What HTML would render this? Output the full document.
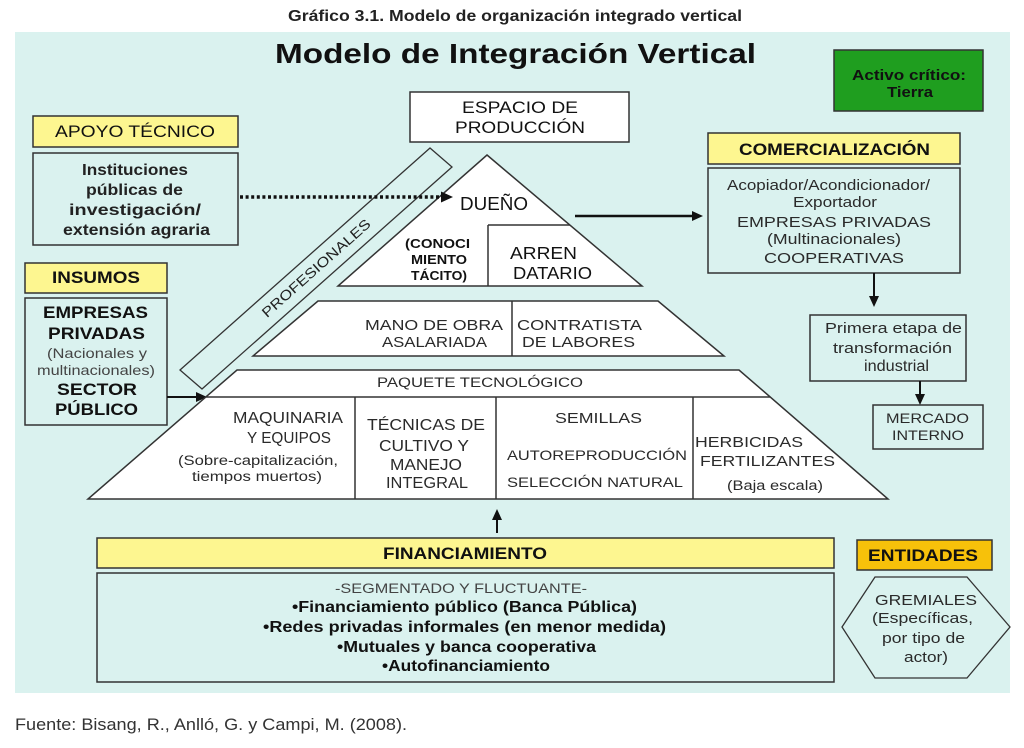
<!DOCTYPE html>
<html><head><meta charset="utf-8"><style>
html,body{margin:0;padding:0;background:#fff;}
svg{display:block;}
text{font-family:"Liberation Sans",Arial,sans-serif;}
.b{font-weight:bold;fill:#111;}
.l{fill:#2a2a2a;}
</style></head><body>
<svg width="1024" height="748" viewBox="0 0 1024 748" xmlns="http://www.w3.org/2000/svg">
<rect x="0" y="0" width="1024" height="748" fill="#fff"/>
<!-- header -->
<text x="288" y="21" font-size="16" class="b" textLength="454" lengthAdjust="spacingAndGlyphs" style="fill:#222">Gráfico 3.1. Modelo de organización integrado vertical</text>
<!-- panel -->
<rect x="15" y="32" width="995" height="661" fill="#daf2ef"/>
<text x="275" y="63" font-size="28" class="b" textLength="481" lengthAdjust="spacingAndGlyphs">Modelo de Integración Vertical</text>

<!-- Activo crítico -->
<rect x="834" y="50" width="149" height="61" fill="#1f9e1f" stroke="#333" stroke-width="1.5"/>
<text x="852" y="80" font-size="15" class="b" textLength="114" lengthAdjust="spacingAndGlyphs">Activo crítico:</text>
<text x="887" y="97" font-size="15" class="b" textLength="46" lengthAdjust="spacingAndGlyphs">Tierra</text>

<!-- Espacio de produccion -->
<rect x="410" y="92" width="219" height="50" fill="#fff" stroke="#333" stroke-width="1.5"/>
<text x="462" y="113" font-size="17" class="l" textLength="116" lengthAdjust="spacingAndGlyphs" style="fill:#111">ESPACIO DE</text>
<text x="455" y="133" font-size="17" class="l" textLength="130" lengthAdjust="spacingAndGlyphs" style="fill:#111">PRODUCCIÓN</text>

<!-- Apoyo tecnico -->
<rect x="33" y="116" width="205" height="31" fill="#fdf690" stroke="#333" stroke-width="1.5"/>
<text x="55" y="137" font-size="17" class="l" textLength="160" lengthAdjust="spacingAndGlyphs" style="fill:#111">APOYO TÉCNICO</text>
<rect x="33" y="153" width="205" height="92" fill="none" stroke="#333" stroke-width="1.5"/>
<text x="82" y="175" font-size="16" class="b" style="fill:#222" textLength="106" lengthAdjust="spacingAndGlyphs">Instituciones</text>
<text x="86" y="195" font-size="16" class="b" style="fill:#222" textLength="97" lengthAdjust="spacingAndGlyphs">públicas de</text>
<text x="69" y="215" font-size="16" class="b" style="fill:#222" textLength="132" lengthAdjust="spacingAndGlyphs">investigación/</text>
<text x="63" y="235" font-size="16" class="b" style="fill:#222" textLength="147" lengthAdjust="spacingAndGlyphs">extensión agraria</text>

<!-- Insumos -->
<rect x="25" y="263" width="142" height="30" fill="#fdf690" stroke="#333" stroke-width="1.5"/>
<text x="52" y="283" font-size="17" class="b" textLength="88" lengthAdjust="spacingAndGlyphs">INSUMOS</text>
<rect x="25" y="298" width="142" height="127" fill="none" stroke="#333" stroke-width="1.5"/>
<text x="43" y="318" font-size="17" class="b" textLength="105" lengthAdjust="spacingAndGlyphs">EMPRESAS</text>
<text x="48" y="339" font-size="17" class="b" textLength="97" lengthAdjust="spacingAndGlyphs">PRIVADAS</text>
<text x="47" y="358" font-size="14" class="l" textLength="100" lengthAdjust="spacingAndGlyphs" style="fill:#444">(Nacionales y</text>
<text x="37" y="375" font-size="14" class="l" textLength="118" lengthAdjust="spacingAndGlyphs" style="fill:#444">multinacionales)</text>
<text x="57" y="395" font-size="17" class="b" textLength="80" lengthAdjust="spacingAndGlyphs">SECTOR</text>
<text x="55" y="415" font-size="17" class="b" textLength="83" lengthAdjust="spacingAndGlyphs">PÚBLICO</text>
<line x1="167" y1="397" x2="198" y2="397" stroke="#111" stroke-width="2"/>
<polygon points="196,392 207,397 196,402" fill="#111"/>

<!-- Profesionales band -->
<polygon points="180,370 202,389 452,167 430,148" fill="none" stroke="#333" stroke-width="1.3"/>
<text x="316" y="273" font-size="14" class="l" text-anchor="middle" transform="rotate(-41.6 316 268)" textLength="140" lengthAdjust="spacingAndGlyphs" style="fill:#222">PROFESIONALES</text>

<!-- top triangle -->
<polygon points="487,155 642,286 338,286" fill="#fff" stroke="#333" stroke-width="1.5"/>
<line x1="488" y1="225" x2="570" y2="225" stroke="#333" stroke-width="1.5"/>
<line x1="488" y1="225" x2="488" y2="286" stroke="#333" stroke-width="1.5"/>
<text x="460" y="210" font-size="18" class="l" textLength="68" lengthAdjust="spacingAndGlyphs" style="fill:#111">DUEÑO</text>
<text x="405" y="248" font-size="12.5" class="b" textLength="65" lengthAdjust="spacingAndGlyphs">(CONOCI</text>
<text x="411" y="264" font-size="12.5" class="b" textLength="56" lengthAdjust="spacingAndGlyphs">MIENTO</text>
<text x="411" y="280" font-size="12.5" class="b" textLength="56" lengthAdjust="spacingAndGlyphs">TÁCITO)</text>
<text x="510" y="259" font-size="17.5" class="l" textLength="67" lengthAdjust="spacingAndGlyphs" style="fill:#111">ARREN</text>
<text x="513" y="279" font-size="17.5" class="l" textLength="79" lengthAdjust="spacingAndGlyphs" style="fill:#111">DATARIO</text>

<!-- dotted arrow (drawn over triangle) -->
<line x1="240" y1="197" x2="442" y2="197" stroke="#111" stroke-width="3.5" stroke-dasharray="3 2.6"/>
<polygon points="441,191.5 453,197 441,202.5" fill="#111"/>

<!-- arrow to comercializacion -->
<line x1="575" y1="216" x2="694" y2="216" stroke="#111" stroke-width="2.5"/>
<polygon points="692,211 703,216 692,221" fill="#111"/>

<!-- middle trapezoid -->
<polygon points="318,301 658,301 724,356 253,356" fill="#fff" stroke="#333" stroke-width="1.5"/>
<line x1="512" y1="301" x2="512" y2="356" stroke="#333" stroke-width="1.5"/>
<text x="365" y="330" font-size="15" class="l" textLength="138" lengthAdjust="spacingAndGlyphs">MANO DE OBRA</text>
<text x="382" y="347" font-size="15" class="l" textLength="105" lengthAdjust="spacingAndGlyphs">ASALARIADA</text>
<text x="517" y="330" font-size="15" class="l" textLength="125" lengthAdjust="spacingAndGlyphs">CONTRATISTA</text>
<text x="522" y="347" font-size="15" class="l" textLength="113" lengthAdjust="spacingAndGlyphs">DE LABORES</text>

<!-- bottom trapezoid -->
<polygon points="237,370 739,370 888,499 88,499" fill="#fff" stroke="#333" stroke-width="1.5"/>
<line x1="206" y1="397" x2="770" y2="397" stroke="#333" stroke-width="1.5"/>
<line x1="355" y1="397" x2="355" y2="499" stroke="#333" stroke-width="1.5"/>
<line x1="496" y1="397" x2="496" y2="499" stroke="#333" stroke-width="1.5"/>
<line x1="693" y1="397" x2="693" y2="499" stroke="#333" stroke-width="1.5"/>
<text x="377" y="387" font-size="13.5" class="l" textLength="206" lengthAdjust="spacingAndGlyphs">PAQUETE TECNOLÓGICO</text>
<text x="233" y="423" font-size="15.5" class="l" textLength="110" lengthAdjust="spacingAndGlyphs">MAQUINARIA</text>
<text x="247" y="443" font-size="15.5" class="l" textLength="84" lengthAdjust="spacingAndGlyphs">Y EQUIPOS</text>
<text x="178" y="465" font-size="13.5" class="l" textLength="160" lengthAdjust="spacingAndGlyphs">(Sobre-capitalización,</text>
<text x="192" y="481" font-size="13.5" class="l" textLength="130" lengthAdjust="spacingAndGlyphs">tiempos muertos)</text>
<text x="367" y="430" font-size="15.5" class="l" textLength="118" lengthAdjust="spacingAndGlyphs">TÉCNICAS DE</text>
<text x="379" y="451" font-size="15.5" class="l" textLength="90" lengthAdjust="spacingAndGlyphs">CULTIVO Y</text>
<text x="390" y="470" font-size="15.5" class="l" textLength="72" lengthAdjust="spacingAndGlyphs">MANEJO</text>
<text x="386" y="488" font-size="15.5" class="l" textLength="82" lengthAdjust="spacingAndGlyphs">INTEGRAL</text>
<text x="555" y="423" font-size="15" class="l" textLength="87" lengthAdjust="spacingAndGlyphs">SEMILLAS</text>
<text x="507" y="460" font-size="14" class="l" textLength="180" lengthAdjust="spacingAndGlyphs">AUTOREPRODUCCIÓN</text>
<text x="507" y="487" font-size="14" class="l" textLength="176" lengthAdjust="spacingAndGlyphs">SELECCIÓN NATURAL</text>
<text x="695" y="447" font-size="15" class="l" textLength="108" lengthAdjust="spacingAndGlyphs">HERBICIDAS</text>
<text x="700" y="466" font-size="15" class="l" textLength="135" lengthAdjust="spacingAndGlyphs">FERTILIZANTES</text>
<text x="727" y="490" font-size="13.5" class="l" textLength="96" lengthAdjust="spacingAndGlyphs">(Baja escala)</text>

<!-- up arrow -->
<line x1="497" y1="533" x2="497" y2="518" stroke="#111" stroke-width="2"/>
<polygon points="492,520 497,509 502,520" fill="#111"/>

<!-- Comercializacion -->
<rect x="708" y="133" width="252" height="31" fill="#fdf690" stroke="#333" stroke-width="1.5"/>
<text x="739" y="155" font-size="16.5" class="b" textLength="191" lengthAdjust="spacingAndGlyphs">COMERCIALIZACIÓN</text>
<rect x="708" y="168" width="252" height="105" fill="none" stroke="#333" stroke-width="1.5"/>
<text x="727" y="190" font-size="15" class="l" textLength="203" lengthAdjust="spacingAndGlyphs">Acopiador/Acondicionador/</text>
<text x="793" y="207" font-size="15" class="l" textLength="84" lengthAdjust="spacingAndGlyphs">Exportador</text>
<text x="737" y="227" font-size="15" class="l" textLength="194" lengthAdjust="spacingAndGlyphs">EMPRESAS PRIVADAS</text>
<text x="767" y="244" font-size="15" class="l" textLength="134" lengthAdjust="spacingAndGlyphs">(Multinacionales)</text>
<text x="764" y="263" font-size="15" class="l" textLength="140" lengthAdjust="spacingAndGlyphs">COOPERATIVAS</text>
<line x1="874" y1="273" x2="874" y2="298" stroke="#111" stroke-width="2"/>
<polygon points="869,296 874,307 879,296" fill="#111"/>

<rect x="810" y="315" width="156" height="66" fill="none" stroke="#333" stroke-width="1.5"/>
<text x="825" y="333" font-size="15" class="l" textLength="137" lengthAdjust="spacingAndGlyphs">Primera etapa de</text>
<text x="833" y="353" font-size="15" class="l" textLength="119" lengthAdjust="spacingAndGlyphs">transformación</text>
<text x="864" y="371" font-size="15.5" class="l" textLength="65" lengthAdjust="spacingAndGlyphs">industrial</text>
<line x1="920" y1="381" x2="920" y2="396" stroke="#111" stroke-width="2"/>
<polygon points="915,394 920,405 925,394" fill="#111"/>

<rect x="873" y="405" width="110" height="44" fill="none" stroke="#333" stroke-width="1.5"/>
<text x="886" y="423" font-size="14" class="l" textLength="83" lengthAdjust="spacingAndGlyphs">MERCADO</text>
<text x="892" y="440" font-size="14" class="l" textLength="72" lengthAdjust="spacingAndGlyphs">INTERNO</text>

<!-- Financiamiento -->
<rect x="97" y="538" width="737" height="30" fill="#fdf690" stroke="#333" stroke-width="1.5"/>
<text x="383" y="559" font-size="16.5" class="b" textLength="164" lengthAdjust="spacingAndGlyphs">FINANCIAMIENTO</text>
<rect x="97" y="573" width="737" height="109" fill="none" stroke="#333" stroke-width="1.5"/>
<text x="335" y="593" font-size="13.5" class="l" textLength="252" lengthAdjust="spacingAndGlyphs" style="fill:#444">-SEGMENTADO Y FLUCTUANTE-</text>
<text x="292" y="612" font-size="16" class="b" textLength="345" lengthAdjust="spacingAndGlyphs">•Financiamiento público (Banca Pública)</text>
<text x="263" y="632" font-size="16" class="b" textLength="403" lengthAdjust="spacingAndGlyphs">•Redes privadas informales (en menor medida)</text>
<text x="337" y="652" font-size="16" class="b" textLength="259" lengthAdjust="spacingAndGlyphs">•Mutuales y banca cooperativa</text>
<text x="382" y="671" font-size="16" class="b" textLength="168" lengthAdjust="spacingAndGlyphs">•Autofinanciamiento</text>

<!-- Entidades -->
<rect x="857" y="540" width="135" height="30" fill="#f7c10a" stroke="#333" stroke-width="1.5"/>
<text x="868" y="561" font-size="16.5" class="b" textLength="110" lengthAdjust="spacingAndGlyphs">ENTIDADES</text>
<polygon points="842,627 875,577 967,577 1010,627 967,678 875,678" fill="none" stroke="#333" stroke-width="1.3"/>
<text x="875" y="605" font-size="14.5" class="l" textLength="102" lengthAdjust="spacingAndGlyphs">GREMIALES</text>
<text x="872" y="623" font-size="14.5" class="l" textLength="101" lengthAdjust="spacingAndGlyphs">(Específicas,</text>
<text x="882" y="643" font-size="14.5" class="l" textLength="83" lengthAdjust="spacingAndGlyphs">por tipo de</text>
<text x="904" y="662" font-size="14.5" class="l" textLength="44" lengthAdjust="spacingAndGlyphs">actor)</text>

<!-- source -->
<text x="15" y="730" font-size="16.5" textLength="392" lengthAdjust="spacingAndGlyphs" style="fill:#333">Fuente: Bisang, R., Anlló, G. y Campi, M. (2008).</text>
</svg>
</body></html>
